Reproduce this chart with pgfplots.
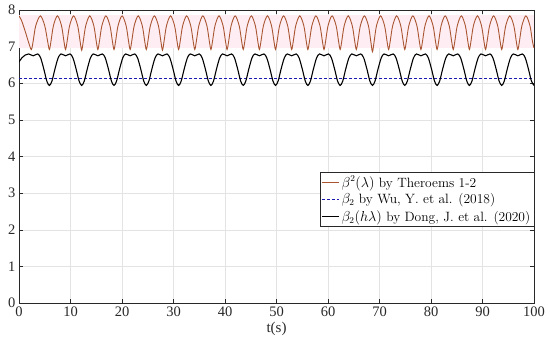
\documentclass[border=0pt]{standalone}
\usepackage{fontspec}
\usepackage{pgfplots}
\pgfplotsset{compat=1.18}
\newfontfamily\timesfont{Liberation Serif}
\definecolor{redc}{RGB}{170,85,50}
\definecolor{pinkc}{RGB}{254,238,243}
\definecolor{bluec}{RGB}{25,25,175}
\definecolor{axc}{RGB}{40,40,40}
\begin{document}
\begin{tikzpicture}
\begin{axis}[
  scale only axis, width=515pt, height=293pt,
  xmin=0, xmax=100, ymin=0, ymax=8,
  xtick={0,10,...,100}, ytick={0,1,...,8},
  grid=major, major grid style={draw=gray!22, line width=0.4pt},
  axis line style={draw=axc, line width=0.5pt},
  tick style={draw=axc, line width=0.4pt}, tick align=inside,
  major tick length=4pt, tick pos=both,
  /pgf/number format/assume math mode=true,
  tick label style={font=\fontsize{14.5}{16}\timesfont, text=axc},
  xlabel={t(s)}, xlabel style={font=\fontsize{15}{17}\timesfont, text=axc, yshift=1pt},
  legend style={at={(rel axis cs:1,0.446)}, anchor=north east,
    font=\fontsize{13.5}{15}\selectfont, draw=axc, line width=0.5pt,
    inner sep=1.5pt, row sep=1pt},
  legend cell align=left,
]
\addplot[fill=pinkc, draw=none, forget plot] coordinates {(0,6.97) (100,6.97) (100,7.87) (0,7.87)} -- cycle;
% red
\addplot[redc, line width=0.9pt, smooth] table {
0 7.84
0.5 7.71
1.2 7.42
1.9 7.10
2.4 6.92
2.75 7.15
3.25 7.57
4.15 7.84
5.0 7.57
5.55 7.15
5.900 6.92
6.214 7.15
6.684 7.57
7.468 7.84
8.253 7.57
8.723 7.15
9.037 6.92
9.351 7.15
9.821 7.57
10.605 7.84
11.390 7.57
11.860 7.15
12.173 6.90
12.487 7.15
12.957 7.57
13.741 7.84
14.526 7.57
14.996 7.15
15.310 6.92
15.624 7.15
16.094 7.57
16.878 7.84
17.663 7.57
18.133 7.15
18.447 6.92
18.761 7.15
19.231 7.57
20.015 7.84
20.800 7.57
21.270 7.15
21.583 6.92
21.897 7.15
22.367 7.57
23.151 7.84
23.936 7.57
24.406 7.15
24.720 6.92
25.034 7.15
25.504 7.57
26.288 7.84
27.073 7.57
27.543 7.15
27.857 6.90
28.171 7.15
28.641 7.57
29.425 7.84
30.210 7.57
30.680 7.15
30.993 6.92
31.307 7.15
31.777 7.57
32.561 7.84
33.346 7.57
33.816 7.15
34.130 6.92
34.444 7.15
34.914 7.57
35.698 7.84
36.483 7.57
36.953 7.15
37.267 6.92
37.581 7.15
38.051 7.57
38.835 7.84
39.620 7.57
40.090 7.15
40.403 6.92
40.717 7.15
41.187 7.57
41.971 7.84
42.756 7.57
43.226 7.15
43.540 6.92
43.854 7.15
44.324 7.57
45.108 7.84
45.893 7.57
46.363 7.15
46.677 6.92
46.991 7.15
47.461 7.57
48.245 7.84
49.030 7.57
49.500 7.15
49.813 6.92
50.127 7.15
50.597 7.57
51.381 7.84
52.166 7.57
52.636 7.15
52.950 6.92
53.264 7.15
53.734 7.57
54.518 7.84
55.303 7.57
55.773 7.15
56.087 6.92
56.401 7.15
56.871 7.57
57.655 7.84
58.440 7.57
58.910 7.15
59.223 6.92
59.537 7.15
60.007 7.57
60.791 7.84
61.576 7.57
62.046 7.15
62.360 6.92
62.674 7.15
63.144 7.57
63.928 7.84
64.713 7.57
65.183 7.15
65.497 6.92
65.811 7.15
66.281 7.57
67.065 7.84
67.850 7.57
68.320 7.13
68.633 6.86
68.947 7.13
69.417 7.57
70.201 7.84
70.986 7.57
71.456 7.15
71.770 6.92
72.084 7.15
72.554 7.57
73.338 7.84
74.123 7.57
74.593 7.15
74.907 6.92
75.221 7.15
75.691 7.57
76.475 7.84
77.260 7.57
77.730 7.15
78.043 6.92
78.357 7.15
78.827 7.57
79.611 7.84
80.396 7.57
80.866 7.15
81.180 6.92
81.494 7.15
81.964 7.57
82.748 7.84
83.533 7.57
84.003 7.15
84.317 6.92
84.631 7.15
85.101 7.57
85.885 7.84
86.670 7.57
87.140 7.15
87.453 6.92
87.767 7.15
88.237 7.57
89.021 7.84
89.806 7.57
90.276 7.15
90.590 6.92
90.904 7.15
91.374 7.57
92.158 7.84
92.943 7.57
93.413 7.15
93.727 6.92
94.041 7.15
94.511 7.57
95.295 7.84
96.080 7.57
96.550 7.15
96.863 6.92
97.177 7.15
97.647 7.57
98.431 7.84
99.216 7.57
99.686 7.15
100 6.96
};
\addlegendentry{$\beta^2(\lambda)$ by Theroems 1-2}
% blue dashed
\addplot[bluec, line width=0.9pt, dash pattern=on 3pt off 2pt] coordinates {(0,6.12) (100,6.12)};
\addlegendentry{$\beta_2$ by Wu, Y. et al. (2018)}
% black
\addplot[black, line width=1.1pt, smooth] table {
0 6.58
0.6 6.70
1.2 6.77
1.885 6.80
2.764 6.75
3.642 6.80
4.206 6.69
4.834 6.38
5.398 6.06
5.900 5.94
6.402 6.06
6.966 6.38
7.594 6.69
8.158 6.80
9.037 6.75
9.915 6.80
10.479 6.69
11.107 6.38
11.671 6.06
12.173 5.94
12.675 6.06
13.239 6.38
13.867 6.69
14.431 6.80
15.310 6.75
16.188 6.80
16.752 6.69
17.380 6.38
17.944 6.06
18.447 5.94
18.949 6.06
19.513 6.38
20.141 6.69
20.705 6.80
21.584 6.75
22.462 6.80
23.026 6.69
23.654 6.38
24.218 6.06
24.720 5.94
25.222 6.06
25.786 6.38
26.414 6.69
26.978 6.80
27.857 6.75
28.735 6.80
29.299 6.69
29.927 6.38
30.491 6.06
30.993 5.94
31.495 6.06
32.059 6.38
32.687 6.69
33.251 6.80
34.130 6.75
35.008 6.80
35.572 6.69
36.200 6.38
36.764 6.06
37.267 5.94
37.769 6.06
38.333 6.38
38.961 6.69
39.525 6.80
40.404 6.75
41.282 6.80
41.846 6.69
42.474 6.38
43.038 6.06
43.540 5.94
44.042 6.06
44.606 6.38
45.234 6.69
45.798 6.80
46.677 6.75
47.555 6.80
48.119 6.69
48.747 6.38
49.311 6.06
49.813 5.94
50.315 6.06
50.879 6.38
51.507 6.69
52.071 6.80
52.950 6.75
53.828 6.80
54.392 6.69
55.020 6.38
55.584 6.06
56.087 5.94
56.589 6.06
57.153 6.38
57.781 6.69
58.345 6.80
59.224 6.75
60.102 6.80
60.666 6.69
61.294 6.38
61.858 6.06
62.360 5.94
62.862 6.06
63.426 6.38
64.054 6.69
64.618 6.80
65.497 6.75
66.375 6.80
66.939 6.69
67.567 6.38
68.131 6.06
68.633 5.94
69.135 6.06
69.699 6.38
70.327 6.69
70.891 6.80
71.770 6.75
72.648 6.80
73.212 6.69
73.840 6.38
74.404 6.06
74.907 5.94
75.409 6.06
75.973 6.38
76.601 6.69
77.165 6.80
78.044 6.75
78.922 6.80
79.486 6.69
80.114 6.38
80.678 6.06
81.180 5.94
81.682 6.06
82.246 6.38
82.874 6.69
83.438 6.80
84.317 6.75
85.195 6.80
85.759 6.69
86.387 6.38
86.951 6.06
87.453 5.94
87.955 6.06
88.519 6.38
89.147 6.69
89.711 6.80
90.590 6.75
91.468 6.80
92.032 6.69
92.660 6.38
93.224 6.06
93.727 5.94
94.229 6.06
94.793 6.38
95.421 6.69
95.985 6.80
96.864 6.75
97.742 6.80
98.306 6.69
98.934 6.38
99.498 6.06
100 5.94
};
\addlegendentry{$\beta_2(h\lambda)$ by Dong, J. et al. (2020)}
\end{axis}
\path ([xshift=-19pt,yshift=-45pt]current axis.south west) rectangle ([xshift=16pt,yshift=10pt]current axis.north east);
\end{tikzpicture}
\end{document}
